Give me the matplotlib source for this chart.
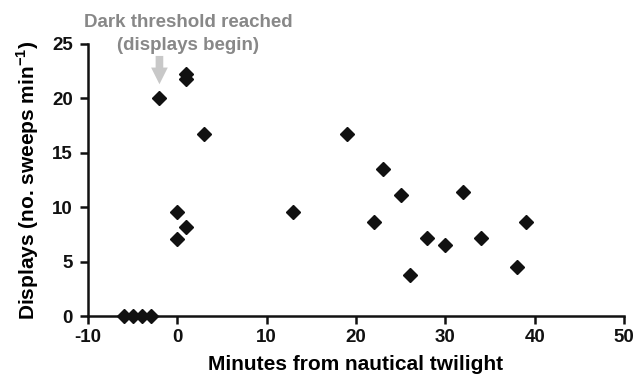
import matplotlib
matplotlib.use("Agg")
import matplotlib.pyplot as plt

plt.rcParams['font.family'] = ['Liberation Sans', 'DejaVu Sans']
plt.rcParams['font.weight'] = 'bold'
plt.rcParams['axes.unicode_minus'] = False
plt.rcParams['mathtext.fontset'] = 'custom'
plt.rcParams['mathtext.rm'] = 'Liberation Sans:bold'
plt.rcParams['mathtext.bf'] = 'Liberation Sans:bold'

# Minutes relative to nautical twilight and display rates
minutes = [-6, -5, -4, -3, -2, 0, 0, 1, 1, 1, 3, 13, 19, 22, 23, 25, 26, 28, 30, 32, 34, 38, 39]
displays = [0, 0, 0, 0, 20.0, 9.6, 7.1, 8.2, 22.2, 21.8, 16.7, 9.6, 16.7, 8.6, 13.5, 11.1, 3.8, 7.2, 6.5, 11.4, 7.2, 4.5, 8.6]

x_ticks = [-10, 0, 10, 20, 30, 40, 50]
y_ticks = [0, 5, 10, 15, 20, 25]
threshold_minute = -2

fig = plt.figure(figsize=(6.44, 3.79), dpi=100)
ax = fig.add_axes([0.1366, 0.1662, 0.969 - 0.1366, 0.884 - 0.1662])

ax.plot(minutes, displays, linestyle='none', marker='D', markersize=7,
        color='#111111', clip_on=False, zorder=3)

ax.set_xlim(-10, 50)
ax.set_ylim(0, 25)
ax.set_xticks(x_ticks)
ax.set_yticks(y_ticks)
for s in ['top', 'right']:
    ax.spines[s].set_visible(False)
for s in ['left', 'bottom']:
    ax.spines[s].set_linewidth(1.8)
    ax.spines[s].set_color('#111111')
ax.tick_params(width=1.8, length=6, labelsize=13.5, colors='#111111')
ax.tick_params(axis='x', pad=3)
ax.tick_params(axis='y', pad=5)
for lab in ax.get_xticklabels() + ax.get_yticklabels():
    lab.set_fontweight('bold')

ax.set_xlabel('Minutes from nautical twilight', fontsize=15, fontweight='bold', labelpad=7)
ax.set_ylabel('Displays (no. sweeps min$^{-1}$)', fontsize=15, fontweight='bold', labelpad=8)

# Arrow marking the onset of displays
ax.annotate('', xy=(threshold_minute, 21.3), xytext=(threshold_minute, 23.9),
            arrowprops=dict(arrowstyle='simple,head_width=1.2,head_length=1.2,tail_width=0.55',
                            mutation_scale=10, color='#c8c8c8', lw=0, shrinkA=0, shrinkB=0),
            annotation_clip=False)
ax.text(1.2, 25.95, 'Dark threshold reached\n(displays begin)', ha='center', va='center',
        fontsize=13.5, fontweight='bold', color='#888888', linespacing=1.45)

fig.savefig('out.png', dpi=100)
